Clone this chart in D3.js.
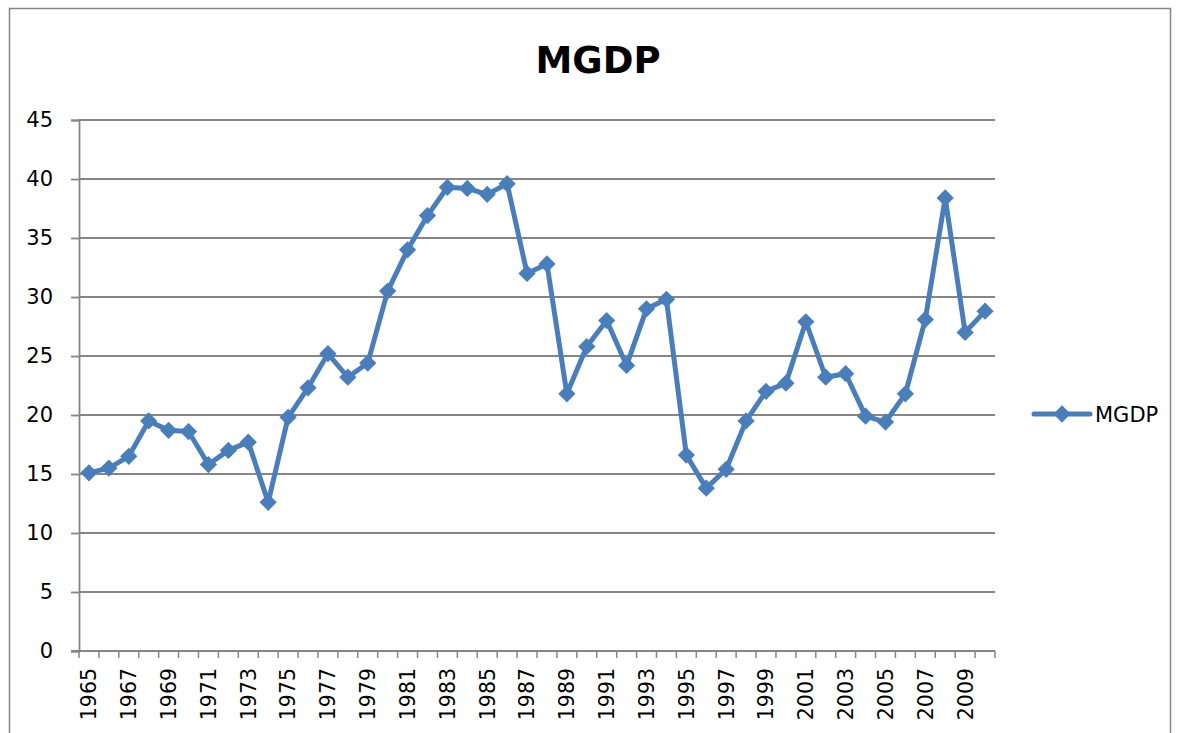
<!DOCTYPE html>
<html><head><meta charset="utf-8">
<script src="https://cdn.jsdelivr.net/npm/d3@7"></script>
<style>body{margin:0;background:#fff}svg{display:block}</style>
</head><body>
<svg id="c" width="1182" height="733"></svg>
<script>
const years = d3.range(1965, 2011).map(String);
const mgdp = [15.1,15.5,16.5,19.5,18.7,18.6,15.8,17.0,17.7,12.6,
              19.8,22.3,25.2,23.2,24.4,30.5,34.0,36.9,39.3,39.2,
              38.7,39.6,32.0,32.8,21.8,25.8,28.0,24.2,29.0,29.8,
              16.6,13.8,15.4,19.5,22.0,22.7,27.9,23.2,23.5,19.9,
              19.4,21.8,28.1,38.4,27.0,28.8];
const yTicks = [0,5,10,15,20,25,30,35,40,45];
const xTickLabels = years.filter((d,i)=>i%2===0);
const seriesName = "MGDP";
const title = "MGDP";

const svg = d3.select("#c");
const font = "'DejaVu Sans', sans-serif";
const L=79, R=995, T=120, B=651;
const x = d3.scaleBand().domain(years).range([L,R]).padding(0);
const y = d3.scaleLinear().domain([0,45]).range([B,T]);
const grey = "#868686";

// outer border
svg.append("rect").attr("x",9.5).attr("y",8.5).attr("width",1161).attr("height",760)
  .attr("fill","none").attr("stroke",grey).attr("stroke-width",1.5);

// title
svg.append("text").attr("x",598).attr("y",73).attr("text-anchor","middle")
  .attr("font-family",font).attr("font-weight","bold").attr("font-size",37).text(title);

// gridlines
svg.append("g").selectAll("line").data(yTicks.filter(d=>d>0)).join("line")
  .attr("x1",L).attr("x2",R).attr("y1",d=>y(d)).attr("y2",d=>y(d))
  .attr("stroke",grey).attr("stroke-width",1.8);

// y axis
const ya = svg.append("g").attr("transform",`translate(${L},0)`)
  .call(d3.axisLeft(y).tickValues(yTicks).tickSize(8).tickPadding(18));
ya.select(".domain").attr("stroke",grey).attr("stroke-width",1.8);
ya.selectAll(".tick line").attr("stroke",grey).attr("stroke-width",1.8);
ya.selectAll("text").attr("font-family",font).attr("font-size",21).attr("fill","#000");

// x axis
const xa = svg.append("g").attr("transform",`translate(0,${B})`);
xa.append("line").attr("x1",L-8).attr("x2",R).attr("y1",0).attr("y2",0)
  .attr("stroke",grey).attr("stroke-width",1.8);
const bounds = years.map(d=>x(d)).concat([R]);
xa.selectAll("line.t").data(bounds).join("line").attr("class","t")
  .attr("x1",d=>d).attr("x2",d=>d).attr("y1",0).attr("y2",7)
  .attr("stroke",grey).attr("stroke-width",1.5);
xa.selectAll("text").data(xTickLabels).join("text")
  .attr("transform",d=>`translate(${x(d)+x.bandwidth()/2},17) rotate(-90)`)
  .attr("text-anchor","end").attr("dy","0.36em")
  .attr("font-family",font).attr("font-size",20.5).attr("fill","#000").text(d=>d);

// line
const cx = d=>x(d)+x.bandwidth()/2;
const color = "#4A7EBB";
svg.append("path").datum(mgdp)
  .attr("d", d3.line().x((d,i)=>cx(years[i])).y(d=>y(d)))
  .attr("fill","none").attr("stroke",color).attr("stroke-width",5).attr("stroke-linejoin","round");
const diamond = d3.symbol().type(d3.symbolDiamond2).size(190);
svg.append("g").selectAll("path").data(mgdp).join("path")
  .attr("transform",(d,i)=>`translate(${cx(years[i])},${y(d)})`)
  .attr("d",diamond).attr("fill",color);

// legend
const lg = svg.append("g");
lg.append("line").attr("x1",1034).attr("x2",1090).attr("y1",414).attr("y2",414)
  .attr("stroke",color).attr("stroke-width",5).attr("stroke-linecap","round");
lg.append("path").attr("transform","translate(1062,414)").attr("d",diamond).attr("fill",color);
lg.append("text").attr("x",1095).attr("y",414).attr("dy","0.36em")
  .attr("font-family",font).attr("font-size",21).attr("fill","#000").text(seriesName);
</script>
</body></html>
